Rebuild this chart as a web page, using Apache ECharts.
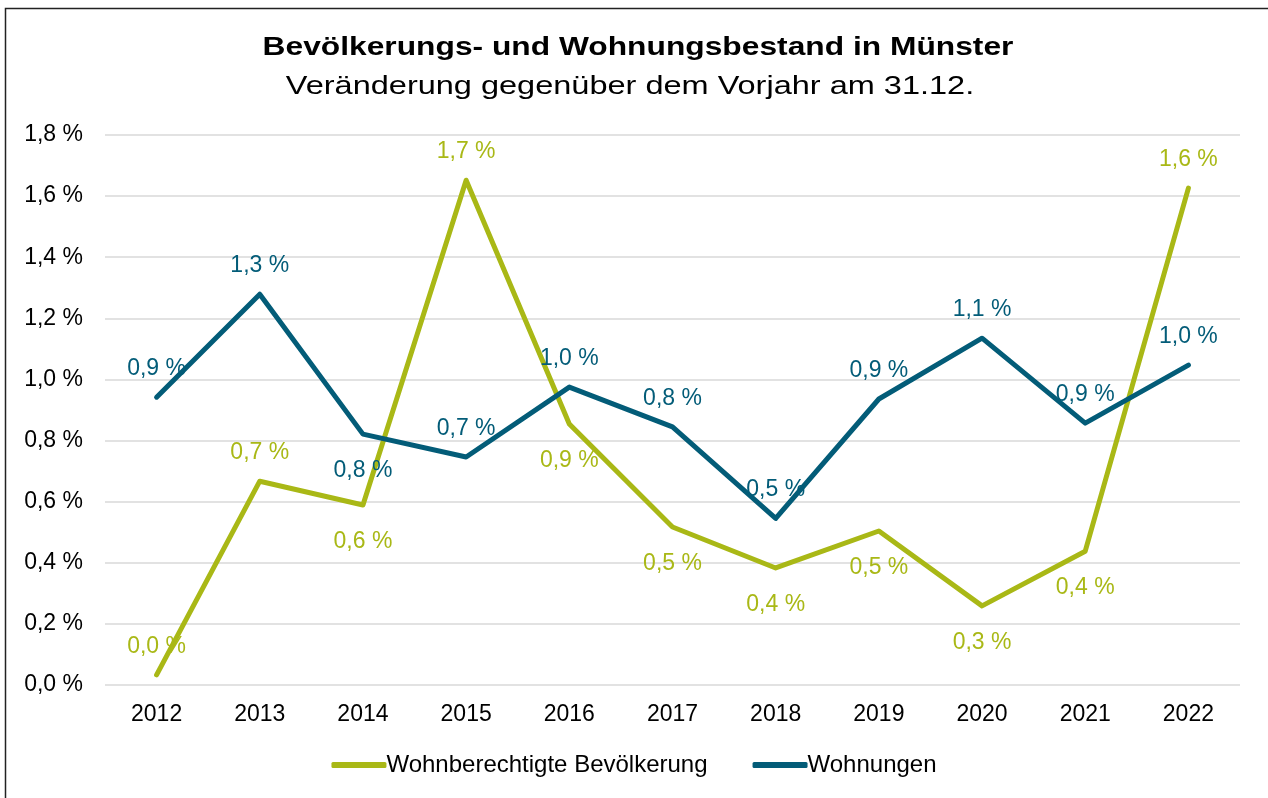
<!DOCTYPE html>
<html><head><meta charset="utf-8">
<script src="https://cdn.jsdelivr.net/npm/echarts@6/dist/echarts.min.js"></script>
<style>html,body{margin:0;padding:0;background:#fff}#c{width:1268px;height:798px}</style>
</head><body><div id="c"></div>
<script>
const years = ['2012','2013','2014','2015','2016','2017','2018','2019','2020','2021','2022'];
const bevoelkerung = [0.033, 0.667, 0.589, 1.652, 0.854, 0.517, 0.383, 0.504, 0.259, 0.438, 1.626];
const wohnungen = [0.942, 1.279, 0.821, 0.746, 0.975, 0.845, 0.545, 0.936, 1.135, 0.857, 1.047];
const bevLabelPos = ['top','top','bottom','top','bottom','bottom','bottom','bottom','bottom','bottom','top'];
const wohLabelPos = ['top','top','bottom','top','top','top','top','top','top','top','top'];
const seriesNames = ['Wohnberechtigte Bevölkerung','Wohnungen'];
const titleText = 'Bevölkerungs- und Wohnungsbestand in Münster';
const subtitleText = 'Veränderung gegenüber dem Vorjahr am 31.12.';
const GREEN = '#A9B816', BLUE = '#035C78';
const fmt = v => v.toFixed(1).replace('.', ',') + ' %';
const FONT = 'Liberation Sans, Arial, sans-serif';

function mk(vals, pos) {
  return vals.map((v, i) => ({
    value: v,
    label: { position: pos[i], distance: pos[i] === 'top' ? 17 : 25 }
  }));
}

const chart = echarts.init(document.getElementById('c'), null, {renderer: 'canvas'});
chart.setOption({
  animation: false,
  backgroundColor: '#fff',
  graphic: [{
    type: 'rect', shape: {x: 5.5, y: 8.5, width: 1300, height: 900},
    style: {fill: 'none', stroke: '#222', lineWidth: 1.5}, silent: true
  }, {
    type: 'text', x: 638, y: 48, scaleX: 1.27,
    style: {text: titleText, font: 'bold 25px ' + FONT, fill: '#000',
      textAlign: 'center', textVerticalAlign: 'middle'}
  }, {
    type: 'text', x: 630, y: 87, scaleX: 1.30,
    style: {text: subtitleText, font: '25px ' + FONT, fill: '#000',
      textAlign: 'center', textVerticalAlign: 'middle'}
  }],
  legend: {
    top: 748, left: 'center', itemGap: 45, itemWidth: 55, itemHeight: 6,
    icon: 'roundRect',
    textStyle: {fontFamily: FONT, fontSize: 24, color: '#000', padding: [0,0,0,-5]},
    data: [
      {name: seriesNames[0], itemStyle: {color: GREEN, opacity: 1}},
      {name: seriesNames[1], itemStyle: {color: BLUE, opacity: 1}}
    ]
  },
  grid: {left: 105, right: 28, top: 135, bottom: 113},
  xAxis: {
    type: 'category', data: years, boundaryGap: true,
    axisLine: {show: false}, axisTick: {show: false},
    axisLabel: {fontFamily: FONT, fontSize: 23, color: '#000', margin: 18}
  },
  yAxis: {
    type: 'value', min: 0, max: 1.8, interval: 0.2,
    axisLabel: {fontFamily: FONT, fontSize: 23, color: '#000', margin: 22,
      formatter: v => v.toFixed(1).replace('.', ',') + ' %'},
    splitLine: {lineStyle: {color: '#D9D9D9', width: 1.5}},
    axisLine: {show: false}, axisTick: {show: false}
  },
  series: [{
    name: seriesNames[0], type: 'line', data: mk(bevoelkerung, bevLabelPos),
    symbol: 'circle', symbolSize: 0, showSymbol: true, color: GREEN,
    lineStyle: {width: 5, color: GREEN, cap: 'round', join: 'round'},
    label: {show: true, fontFamily: FONT, fontSize: 23, color: GREEN, formatter: p => fmt(p.value)},
    labelLayout: {hideOverlap: false},
    z: 2
  }, {
    name: seriesNames[1], type: 'line', data: mk(wohnungen, wohLabelPos),
    symbol: 'circle', symbolSize: 0, showSymbol: true, color: BLUE,
    lineStyle: {width: 5, color: BLUE, cap: 'round', join: 'round'},
    label: {show: true, fontFamily: FONT, fontSize: 23, color: BLUE, formatter: p => fmt(p.value)},
    labelLayout: {hideOverlap: false},
    z: 3
  }]
});
</script></body></html>
